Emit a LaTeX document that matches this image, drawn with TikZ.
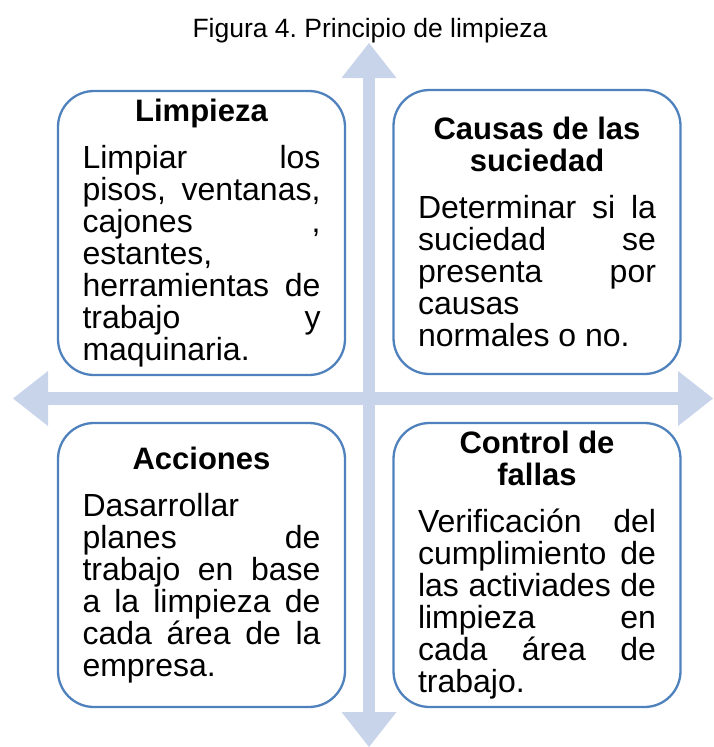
\documentclass[tikz,border=0pt]{standalone}
\usepackage{fontspec}
\setmainfont{Liberation Sans}
\usetikzlibrary{arrows.meta}
\usepackage{xcolor}

\definecolor{boxline}{RGB}{79,129,189}
\definecolor{axisfill}{RGB}{200,212,234}
\newcommand{\headfont}{\bfseries\fontsize{31}{31.5}\selectfont}

\begin{document}
\frenchspacing
\begin{tikzpicture}[
    x=1pt, y=-1pt,
    quadrant/.style={
      draw=boxline,
      line width=2.3pt,
      fill=white,
      rounded corners=36pt,
      minimum width=287pt,
      minimum height=284pt,
      text width=238pt,
      align=justify,
      inner sep=0pt,
      font=\fontsize{32}{32}\selectfont,
      execute at begin node={\parindent=0pt\tolerance=10000\hbadness=10000\hyphenpenalty=10000}
    },
    axis/.style={
      draw=axisfill,
      line width=12.5pt,
      {Triangle[length=35pt,width=55pt,line width=0pt]}-{Triangle[length=35pt,width=55pt,line width=0pt]}
    }
  ]

    \useasboundingbox (0,0) rectangle (713,747);

    % Titulo
    \node[font=\fontsize{26.5}{30}\selectfont, anchor=base] (title) at (370,37)
      {Figura 4. Principio de limpieza};

    % Ejes
    \coordinate (top) at (369,43);
    \coordinate (bottom) at (369,747);
    \coordinate (left) at (13,398.5);
    \coordinate (right) at (713,398.5);
    \draw[axis] (left) -- (right);
    \draw[axis] (top) -- (bottom);

    % Cuadrantes
    \node[quadrant] (clean) at (201.5,233) {%
      {\centering\headfont Limpieza\par}\vspace{15pt}
      Limpiar los\linebreak pisos, ventanas,\linebreak cajones ,\linebreak
      estantes,\linebreak herramientas de\linebreak trabajo y\linebreak
      maquinaria.};

    \node[quadrant] (causes) at (537,232) {%
      {\centering\headfont Causas de las\par suciedad\par}\vspace{15pt}
      Determinar si la\linebreak suciedad se\linebreak presenta por\linebreak
      causas\linebreak normales o no.};

    \node[quadrant] (actions) at (201.5,565) {%
      {\centering\headfont Acciones\par}\vspace{15pt}
      Dasarrollar\linebreak planes de\linebreak trabajo en base\linebreak
      a la limpieza de\linebreak cada área de la\linebreak empresa.};

    \node[quadrant] (control) at (537,565) {%
      {\centering\headfont Control de\par fallas\par}\vspace{15pt}
      Verificación del\linebreak cumplimiento de\linebreak
      las activiades de\linebreak limpieza en\linebreak cada área de\linebreak
      trabajo.};

  \end{tikzpicture}
\end{document}
